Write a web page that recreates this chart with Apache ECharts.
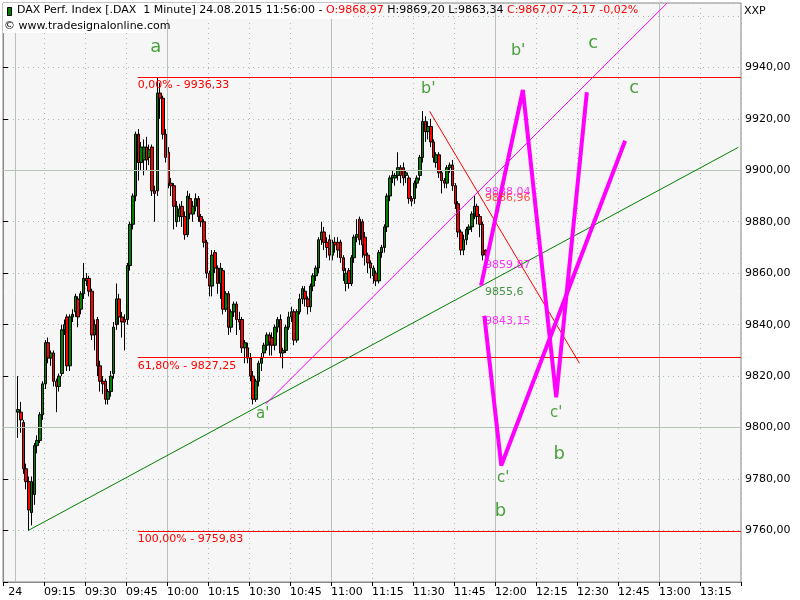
<!DOCTYPE html>
<html><head><meta charset="utf-8">
<script src="https://cdn.jsdelivr.net/npm/echarts@6/dist/echarts.min.js"></script>
<style>html,body{margin:0;padding:0;background:#fff}#c{width:800px;height:600px}</style>
</head><body><div id="c"></div>
<script>
// OHLC per minute: [open, close, low, high]
const candles = [
[9806,9807,9796,9820],[9806,9803,9798,9810],[9802,9784,9782,9803],[9784,9779,9776,9786],
[9779,9768,9760,9781],[9767,9779,9762,9781],[9774,9793,9770,9794],[9793,9795,9790,9797],[9795,9805,9794,9806],
[9805,9817,9803,9818],[9817,9833,9815,9834],[9833,9827,9825,9835],[9827,9829,9824,9830],[9829,9818,9816,9830],
[9818,9816,9806,9819],[9816,9820,9814,9821],[9821,9838,9820,9840],[9838,9840,9836,9842],[9843,9824,9822,9844],
[9824,9843,9822,9844],[9843,9844,9841,9846],[9845,9851,9843,9852],[9850,9843,9839,9851],[9846,9852,9844,9853],
[9852,9858,9850,9864],[9858,9857,9855,9860],[9858,9853,9851,9859],[9853,9836,9834,9854],[9836,9840,9830,9842],
[9842,9824,9820,9843],[9824,9818,9814,9826],[9818,9817,9813,9820],[9818,9811,9809,9819],[9811,9814,9809,9815],
[9814,9820,9812,9822],[9821,9839,9819,9841],[9840,9850,9838,9856],[9850,9843,9840,9852],[9843,9841,9835,9845],
[9842,9841,9830,9844],[9842,9863,9840,9864],[9863,9879,9861,9880],[9879,9890,9877,9891],[9890,9914,9888,9915],
[9914,9903,9896,9916],[9903,9909,9900,9911],[9904,9909,9898,9912],[9909,9904,9900,9913],[9905,9908,9902,9910],
[9909,9892,9890,9910],[9892,9891,9880,9894],[9892,9930,9890,9936],[9930,9928,9920,9934],[9928,9914,9912,9929],
[9914,9905,9903,9916],[9907,9895,9893,9909],[9895,9894,9890,9897],[9894,9886,9877,9895],
[9880,9886,9878,9888],[9882,9885,9880,9887],[9886,9882,9878,9888],[9882,9875,9873,9884],
[9875,9890,9874,9892],[9889,9883,9881,9891],[9883,9886,9880,9888],[9886,9889,9884,9891],[9889,9882,9880,9890],
[9882,9880,9878,9883],[9880,9872,9870,9881],[9872,9860,9858,9873],[9860,9855,9851,9861],[9855,9867,9851,9869],
[9868,9862,9860,9869],[9862,9856,9852,9863],[9856,9862,9850,9864],[9861,9846,9844,9862],
[9846,9852,9845,9853],[9852,9839,9836,9853],[9839,9845,9837,9846],[9845,9848,9843,9849],[9848,9842,9836,9849],
[9842,9841,9838,9845],[9842,9831,9829,9843],[9831,9833,9825,9834],[9831,9827,9825,9833],[9827,9820,9818,9829],
[9820,9811,9809,9822],[9811,9818,9810,9819],[9818,9825,9816,9826],[9825,9827,9822,9829],[9829,9832,9827,9833],
[9832,9836,9830,9837],[9836,9833,9828,9837],[9835,9832,9828,9837],[9832,9839,9830,9840],[9839,9842,9837,9843],
[9842,9829,9827,9844],[9829,9830,9823,9831],[9830,9839,9829,9840],[9839,9843,9838,9845],[9843,9845,9841,9847],
[9845,9834,9832,9846],[9834,9845,9833,9846],[9845,9850,9844,9852],[9850,9854,9848,9855],[9853,9850,9847,9855],
[9850,9847,9844,9851],[9847,9855,9845,9856],[9855,9859,9853,9860],[9859,9862,9857,9863],[9862,9873,9860,9874],
[9873,9876,9871,9880],[9876,9872,9869,9878],[9872,9870,9866,9874],[9873,9867,9865,9875],[9867,9872,9865,9873],
[9872,9871,9868,9874],[9872,9869,9866,9874],[9872,9866,9864,9873],[9866,9861,9857,9867],[9856,9860,9853,9862],
[9861,9856,9854,9862],[9856,9866,9855,9867],[9866,9874,9864,9875],[9874,9875,9872,9881],
[9881,9873,9871,9882],[9880,9871,9866,9881],[9874,9867,9863,9876],[9867,9864,9860,9868],[9864,9862,9858,9865],
[9859,9862,9856,9863],[9860,9857,9855,9861],[9857,9868,9856,9869],[9868,9870,9866,9871],[9870,9878,9868,9879],
[9878,9890,9876,9891],[9890,9897,9888,9898],[9897,9898,9895,9900],[9897,9898,9894,9899],[9898,9901,9896,9907],
[9901,9898,9895,9902],[9901,9897,9894,9903],[9898,9899,9895,9900],[9897,9889,9887,9898],[9889,9888,9886,9890],
[9889,9895,9887,9896],[9895,9897,9893,9898],[9898,9905,9896,9906],[9905,9919,9903,9923],[9919,9915,9911,9921],
[9915,9917,9912,9919],[9917,9911,9909,9920],[9911,9905,9903,9912],[9903,9906,9901,9907],[9906,9899,9897,9907],
[9899,9896,9891,9900],[9896,9895,9893,9897],[9895,9901,9893,9902],[9901,9902,9899,9903],[9902,9894,9892,9904],
[9894,9887,9885,9895],[9887,9876,9874,9888],[9876,9869,9867,9877],[9869,9873,9867,9875],[9873,9877,9871,9878],
[9877,9878,9875,9879],[9878,9883,9876,9884],[9883,9886,9881,9890],[9886,9882,9879,9887],[9882,9879,9874,9883],
[9879,9867,9865,9880],[9868.97,9867.07,9863.34,9869.20]
];
const lastIndex = 176; // 11:56 = minute 176 after 09:00
const totalMinutes = 270;
// overlay lines in [minute after 09:00, price]
const fibLevels = [9936.33, 9827.25, 9759.83];
const fibTexts = ['0,00% - 9936,33','61,80% - 9827,25','100,00% - 9759,83'];
const fibStart = 49.3;
const greenTrend = [[9.2,9760],[269,9908.9]];
const pinkTrend = [[96.1,9809.2],[242.9,9964.9]];
const redTrend = [[156.1,9922.9],[210.9,9825.0]];
const zigA = [[174.9,9855.2],[190.2,9931.2],[202.4,9811.8],[213.6,9930.3]];
const zigB = [[176.1,9843.5],[182.3,9785.3],[227.6,9911.5]];
const waveLabels = [
 [55.9,9947.7,'a',18],[155.6,9931.7,"b'",16],[188.5,9946.5,"b'",16],[215.9,9949.2,'c',18],[230.9,9931.7,'c',18],
 [95,9805.4,"a'",15],[183,9780.2,"c'",15],[202.4,9805.8,"c'",15],[182,9767.4,'b',18],[203.5,9789.6,'b',18]
];
const priceLabels = [
 [176.3,9891.6,'9888,04','#ff00ff'],[176.3,9889.0,'9886,96','#ff2020'],[176.3,9863,'9859,87','#ff00ff'],
 [176.3,9852.8,'9855,6','#1a7a1a'],[176.3,9841.2,'9843,15','#ff00ff']
];
const hourLines = [4.5,60,120,180,240];
const solidY = [9800,9900];

const cats=[]; for(let i=0;i<totalMinutes;i++){const h=9+Math.floor(i/60),m=i%60;cats.push((h<10?'0':'')+h+':'+(m<10?'0':'')+m);}
const start = lastIndex+1-candles.length;
const kdata = cats.map((c,i)=>{const j=i-start;return (j>=0&&j<candles.length)?candles[j]:'-';});
const fmt=v=>v.toFixed(2).replace('.',',');
const lineS=(data,color,width)=>({type:'line',xAxisIndex:1,data,symbol:'none',silent:true,lineStyle:{color,width},itemStyle:{color},z:5});
const series=[
 {type:'candlestick',data:kdata,barWidth:3,itemStyle:{color:'#008000',color0:'#ff0000',borderColor:'#000',borderColor0:'#000',borderWidth:1},z:3,
  markLine:{silent:true,symbol:'none',label:{show:false},lineStyle:{color:'#b4c4b4',type:'solid',width:1},data:solidY.map(v=>({yAxis:v}))}},
 {type:'line',xAxisIndex:1,data:[],markLine:{silent:true,symbol:'none',label:{show:false},lineStyle:{color:'#b4c4b4',type:'solid',width:1},data:hourLines.map(v=>({xAxis:v}))}},
 {type:'line',xAxisIndex:1,data:[],z:4,markLine:{silent:true,symbol:'none',
   lineStyle:{color:'#ff0000',type:'solid',width:1},
   label:{show:true,position:'insideStartBottom',color:'#ff0000',fontSize:11,fontFamily:'DejaVu Sans',distance:[0,3]},
   data:fibLevels.map((p,k)=>[{coord:[fibStart,p],name:fibTexts[k],label:{formatter:fibTexts[k]}},{coord:[totalMinutes,p]}])}},
 lineS(greenTrend,'#008000',1), lineS(pinkTrend,'#ff00ff',1), lineS(redTrend,'#ff0000',1),
 lineS(zigA,'#ff00ff',4), lineS(zigB,'#ff00ff',4)
];
series.push({type:'scatter',xAxisIndex:1,symbolSize:0,silent:true,z:10,data:waveLabels.map(d=>({value:[d[0],d[1]],label:{show:true,position:'inside',formatter:d[2],fontSize:d[3],color:'#1f8a10',fontFamily:'DejaVu Sans'}}))});
series.push({type:'scatter',xAxisIndex:1,symbolSize:0,silent:true,z:10,data:priceLabels.map(d=>({value:[d[0],d[1]],label:{show:true,position:'right',distance:0,formatter:d[2],fontSize:11,color:d[3],fontFamily:'DejaVu Sans'}}))});

const chart=echarts.init(document.getElementById('c'));
chart.setOption({
 animation:false,backgroundColor:'#fff',
 grid:{left:2,right:59,top:3,bottom:18,show:true,backgroundColor:'#f6f6f6',borderColor:'#888',borderWidth:1},
 xAxis:[
  {type:'category',data:cats,boundaryGap:true,axisLine:{show:false},axisTick:{show:false},splitLine:{show:false},
   axisLabel:{interval:i=>i===4,formatter:()=>'24',fontSize:11,color:'#000',fontFamily:'DejaVu Sans',margin:5}},
  {type:'value',min:0,max:totalMinutes,interval:15,position:'bottom',
   axisLine:{show:true,lineStyle:{color:'#888'}},axisTick:{show:true,length:4,lineStyle:{color:'#000'}},
   splitLine:{show:true,lineStyle:{color:'#aab8aa',type:[1,4]}},
   axisLabel:{fontSize:11,color:'#000',fontFamily:'DejaVu Sans',align:'left',margin:5,
    formatter:v=>{if(v<15||v>=totalMinutes)return '';return cats[v];}}}
 ],
 yAxis:{type:'value',position:'right',min:9740,max:9965,interval:20,
  axisLine:{show:true,lineStyle:{color:'#888'}},axisTick:{show:true,length:5,lineStyle:{color:'#000'}},
  splitLine:{show:true,lineStyle:{color:'#aab8aa',type:[1,4]}},
  axisLabel:{fontSize:11,color:'#000',fontFamily:'DejaVu Sans',margin:4,formatter:v=>(v<9760||v>9940)?'':fmt(v)}},
 graphic:[
  {type:'rect',left:3,top:3,shape:{width:350,height:16},style:{fill:'#fff'},z:50},
  {type:'rect',left:3,top:19,shape:{width:150,height:14},style:{fill:'#fff'},z:50},
  {type:'text',left:744,top:6,style:{text:'XXP',fontSize:11,fill:'#000',fontFamily:'DejaVu Sans'},z:51},
  {type:'rect',left:7,top:7,shape:{width:4,height:8},style:{fill:'#008000',stroke:'#000'},z:51},
  {type:'text',left:17,top:5,z:51,style:{fontFamily:'DejaVu Sans',fontSize:11,
   text:'{k|DAX Perf. Index [.DAX  1 Minute] 24.08.2015 11:56:00 - }{r|O:9868,97 }{k|H:9869,20 L:9863,34 }{r|C:9867,07 -2,17 -0,02%}',
   rich:{k:{fill:'#000',fontSize:11,fontFamily:'DejaVu Sans'},r:{fill:'#ff0000',fontSize:11,fontFamily:'DejaVu Sans'}}}},
  {type:'text',left:4,top:21,z:51,style:{text:'© www.tradesignalonline.com',fontSize:11,fill:'#000',fontFamily:'DejaVu Sans'}}
 ],
 series
});
</script></body></html>
